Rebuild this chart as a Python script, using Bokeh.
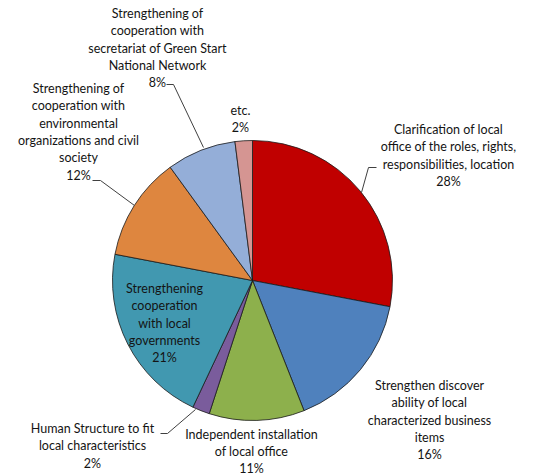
import math
from bokeh.plotting import figure
from bokeh.models import Range1d, ColumnDataSource
from bokeh.core.properties import value
from bokeh.embed import file_html
from bokeh.resources import INLINE

# ---- data ----
categories = [
    "Clarification of local office of the roles, rights, responsibilities, location",
    "Strengthen discover ability of local characterized business items",
    "Independent installation of local office",
    "Human Structure to fit local characteristics",
    "Strengthening cooperation with local governments",
    "Strengthening of cooperation with environmental organizations and civil society",
    "Strengthening of cooperation with secretariat of Green Start National Network",
    "etc.",
]
shares = [28, 16, 11, 2, 21, 12, 8, 2]
colors = ["#C00000", "#4F81BD", "#8DB04C", "#7A5C9C", "#4198B0", "#DE863F", "#94AED8", "#D59592"]

label_lines = [
    ["Clarification of local", "office of the roles, rights,", "responsibilities, location"],
    ["Strengthen discover", "ability of local", "characterized business", "items"],
    ["Independent installation", "of local office"],
    ["Human Structure to fit", "local characteristics"],
    ["Strengthening", "cooperation", "with local", "governments"],
    ["Strengthening of", "cooperation with", "environmental", "organizations and civil", "society"],
    ["Strengthening of", "cooperation with", "secretariat of Green Start", "National Network"],
    ["etc."],
]

W, H = 535, 476
# page coords -> data coords helpers (layout only)
def px(x):
    return x
def py(y):
    return H - y

p = figure(width=W, height=H, output_backend="svg", toolbar_location=None,
           x_range=Range1d(0, W), y_range=Range1d(0, H), min_border=0)
p.axis.visible = False
p.grid.visible = False
p.outline_line_color = None

cx, cy, R = px(252), py(280), 140

total = sum(shares)
starts, ends = [], []
cum = 0
for s in shares:
    starts.append(math.pi / 2 - 2 * math.pi * cum / total)
    cum += s
    ends.append(math.pi / 2 - 2 * math.pi * cum / total)

src = ColumnDataSource(dict(start=starts, end=ends, color=colors, cat=categories))
p.wedge(x=cx, y=cy, radius=R, radius_units="screen", start_angle="start", end_angle="end",
        direction="clock", fill_color="color", line_color="#1a1a1a", line_width=0.8, source=src)

# label anchor positions (page coords of first line centre) and line spacing
label_pos = [(448, 129), (429, 385), (251, 434), (92, 428), (164, 288), (78, 88), (157, 13), (240, 110)]
label_lh = [17.3, 17.3, 16.8, 17.3, 17.3, 17.3, 17.3, 17.3]
label_color = "#141414"
font = value("Lato")
fs = "12.5px"
tx, ty, tt = [], [], []
for lines, share, (lx, ly), lh in zip(label_lines, shares, label_pos, label_lh):
    allt = lines + [f"{share}%"]
    for i, t in enumerate(allt):
        tx.append(px(lx))
        ty.append(py(ly + i * lh))
        tt.append(t)
p.text(x=tx, y=ty, text=tt, text_font=font, text_font_size=fs, text_align="center",
       text_baseline="middle", text_color=label_color)

# leader lines (page coords)
leaders = [
    [(376, 167), (368, 167), (361, 192)],
    [(160, 433), (167, 433), (195, 409)],
    [(92, 180), (100, 180), (134, 205)],
    [(166, 84), (173, 84), (203, 147)],
]
p.multi_line(xs=[[px(a) for a, b in l] for l in leaders], ys=[[py(b) for a, b in l] for l in leaders],
             line_color="#404040", line_width=1)

open("out.html", "w").write(file_html(p, INLINE))
